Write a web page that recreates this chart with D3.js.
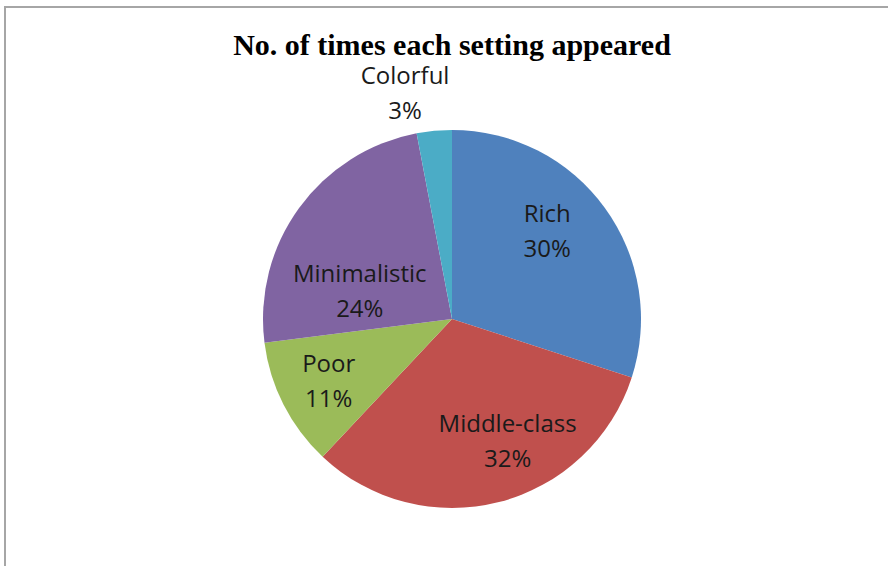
<!DOCTYPE html>
<html>
<head>
<meta charset="utf-8">
<script src="https://cdn.jsdelivr.net/npm/d3@7"></script>
<style>
  body { margin: 0; background: #fff; }
</style>
</head>
<body>
<div id="chart"></div>
<script>
const categories = ["Rich", "Middle-class", "Poor", "Minimalistic", "Colorful"];
const values = [30, 32, 11, 24, 3];
const colors = ["#4F81BD", "#C0504D", "#9BBB59", "#8064A2", "#4BACC6"];

const width = 888, height = 566;
const cx = 452, cy = 319, radius = 189;

// small nudges so the labels sit where Excel put them
const labelNudge = {
    "Rich": [-14, -9],
    "Middle-class": [22, -9],
    "Poor": [-3, 1],
    "Minimalistic": [17, 51],
    "Colorful": [-25, 6]
};

const data = categories.map((c, i) => ({ name: c, value: values[i], color: colors[i] }));

const svg = d3.select("#chart").append("svg")
    .attr("width", width)
    .attr("height", height);

// frame
svg.append("rect")
    .attr("x", 5)
    .attr("y", 7)
    .attr("width", width)
    .attr("height", height)
    .attr("fill", "none")
    .attr("stroke", "#a6a6a6")
    .attr("stroke-width", 2);

svg.append("text")
    .attr("x", cx)
    .attr("y", 55)
    .attr("text-anchor", "middle")
    .style("font-family", "'Liberation Serif', 'Times New Roman', serif")
    .style("font-weight", "bold")
    .style("font-size", "30px")
    .style("fill", "#000")
    .text("No. of times each setting appeared");

const pie = d3.pie().sort(null).value(d => d.value);
const arc = d3.arc().innerRadius(0).outerRadius(radius);
const insideArc = d3.arc().innerRadius(135).outerRadius(135);
const outsideArc = d3.arc().innerRadius(233).outerRadius(233);

const g = svg.append("g").attr("transform", "translate(" + cx + "," + cy + ")");

const arcs = pie(data);

g.selectAll("path")
    .data(arcs)
    .enter().append("path")
    .attr("d", arc)
    .attr("fill", d => d.data.color)
    .attr("stroke", "none");

const labels = g.selectAll(".label")
    .data(arcs)
    .enter().append("text")
    .attr("class", "label")
    .attr("text-anchor", "middle")
    .attr("transform", function(d) {
        const p = d.data.value < 5 ? outsideArc.centroid(d) : insideArc.centroid(d);
        const n = labelNudge[d.data.name];
        return "translate(" + (p[0] + n[0]) + "," + (p[1] + n[1]) + ")";
    })
    .style("font-family", "'Open Sans', 'Noto Sans', sans-serif")
    .style("font-size", "24px")
    .style("fill", "#1a1a1a");

labels.append("tspan")
    .attr("x", 0)
    .attr("y", -9)
    .text(d => d.data.name);

labels.append("tspan")
    .attr("x", 0)
    .attr("y", 26)
    .text(d => d.data.value + "%");
</script>
</body>
</html>
